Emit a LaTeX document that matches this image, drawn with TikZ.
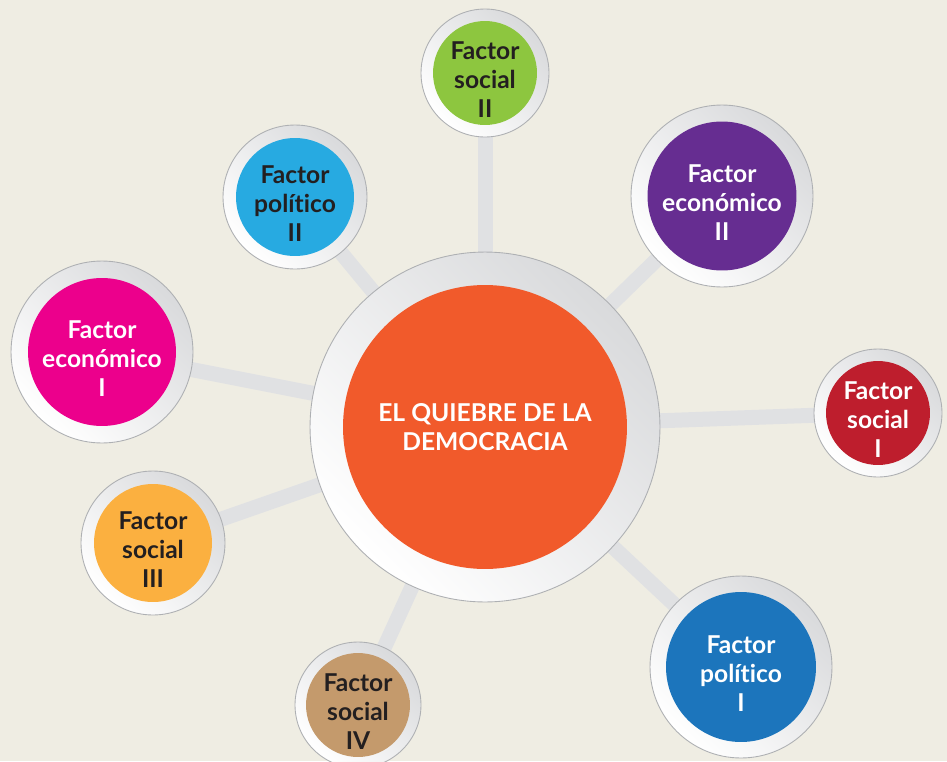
\documentclass[tikz,border=0pt]{standalone}
\usepackage{fontspec}
\setmainfont{Lato}[Ligatures={NoCommon}]
\usepackage{tikz}

\definecolor{paper}{HTML}{EFEDE3}
\definecolor{bargray}{HTML}{E0E1E3}
\definecolor{ringgray}{HTML}{D9DADC}
\definecolor{ringedge}{HTML}{AEB0B3}
\definecolor{ink}{HTML}{231F20}
\definecolor{quiebre}{HTML}{F15A2B}
\definecolor{verde}{HTML}{8DC63F}
\definecolor{celeste}{HTML}{27AAE1}
\definecolor{morado}{HTML}{662D91}
\definecolor{magenta}{HTML}{EC008C}
\definecolor{rojo}{HTML}{BE1E2D}
\definecolor{ambar}{HTML}{FBB040}
\definecolor{cafe}{HTML}{C49A6C}
\definecolor{azul}{HTML}{1C75BC}

\pgfdeclarelayer{fondo}
\pgfdeclarelayer{enlaces}
\pgfsetlayers{fondo,enlaces,main}

\tikzset{
  ring/.style={circle,draw=ringedge,line width=0.5pt,inner sep=0pt,
    shading=axis,top color=ringgray,bottom color=white,shading angle=-45},
  disc/.style={circle,fill=#1,inner sep=0pt},
  rotulo/.style={align=center,inner sep=0pt,
    font=\bfseries\fontsize{14}{16.5}\selectfont},
  link/.style={draw=bargray,line width=0.3cm}
}

\begin{document}
\begin{tikzpicture}[x=0.02cm,y=-0.02cm]
        \useasboundingbox (0,0) rectangle (947,761);
        \begin{pgfonlayer}{fondo}
          \fill[paper] (0,0) rectangle (947,761);
        \end{pgfonlayer}

        % centro
        \node[ring,minimum size=7cm] (quiebre) at (485,427) {};
        \node[disc=quiebre,minimum size=5.68cm] (quiebre-in) at (quiebre) {};
        \node[rotulo,text=white] (quiebre-txt) at (quiebre) {EL QUIEBRE DE LA\\DEMOCRACIA};

        % factores
        \node[ring,minimum size=2.56cm] (social2) at (485,73) {};
        \node[disc=verde,minimum size=2.08cm] (social2-in) at (social2) {};
        \node[rotulo,text=ink] (social2-txt) at ([yshift=-3.5pt]social2) {Factor\\social\\II};

        \node[ring,minimum size=2.88cm] (politico2) at (295,197) {};
        \node[disc=celeste,minimum size=2.36cm] (politico2-in) at (politico2) {};
        \node[rotulo,text=ink] (politico2-txt) at ([yshift=-3.5pt]politico2) {Factor\\político\\II};

        \node[ring,minimum size=3.64cm] (economico2) at (722,196) {};
        \node[disc=morado,minimum size=2.98cm] (economico2-in) at (economico2) {};
        \node[rotulo,text=white] (economico2-txt) at ([yshift=-3.5pt]economico2) {Factor\\económico\\II};

        \node[ring,minimum size=3.64cm] (economico1) at (102,352) {};
        \node[disc=magenta,minimum size=2.96cm] (economico1-in) at (economico1) {};
        \node[rotulo,text=white] (economico1-txt) at ([yshift=-3.5pt]economico1) {Factor\\económico\\I};

        \node[ring,minimum size=2.56cm] (social1) at (878,413) {};
        \node[disc=rojo,minimum size=2.08cm] (social1-in) at (social1) {};
        \node[rotulo,text=white] (social1-txt) at ([yshift=-3.5pt]social1) {Factor\\social\\I};

        \node[ring,minimum size=2.88cm] (social3) at (153,543) {};
        \node[disc=ambar,minimum size=2.36cm] (social3-in) at (social3) {};
        \node[rotulo,text=ink] (social3-txt) at ([yshift=-3.5pt]social3) {Factor\\social\\III};

        \node[ring,minimum size=2.52cm] (social4) at (358,705) {};
        \node[disc=cafe,minimum size=2.08cm] (social4-in) at (social4) {};
        \node[rotulo,text=ink] (social4-txt) at ([yshift=-3.5pt]social4) {Factor\\social\\IV};

        \node[ring,minimum size=3.64cm] (politico1) at (741,667) {};
        \node[disc=azul,minimum size=3cm] (politico1-in) at (politico1) {};
        \node[rotulo,text=white] (politico1-txt) at ([yshift=-3.5pt]politico1) {Factor\\político\\I};

        % enlaces
        \begin{pgfonlayer}{enlaces}
          \draw[link] (quiebre.center) -- (social2.center);
          \draw[link] (quiebre.center) -- (politico2.center);
          \draw[link] (quiebre.center) -- (economico2.center);
          \draw[link] (quiebre.center) -- (economico1.center);
          \draw[link] (quiebre.center) -- (social1.center);
          \draw[link] (quiebre.center) -- (social3.center);
          \draw[link] (quiebre.center) -- (social4.center);
          \draw[link] (quiebre.center) -- (politico1.center);
        \end{pgfonlayer}
      \end{tikzpicture}
\end{document}
